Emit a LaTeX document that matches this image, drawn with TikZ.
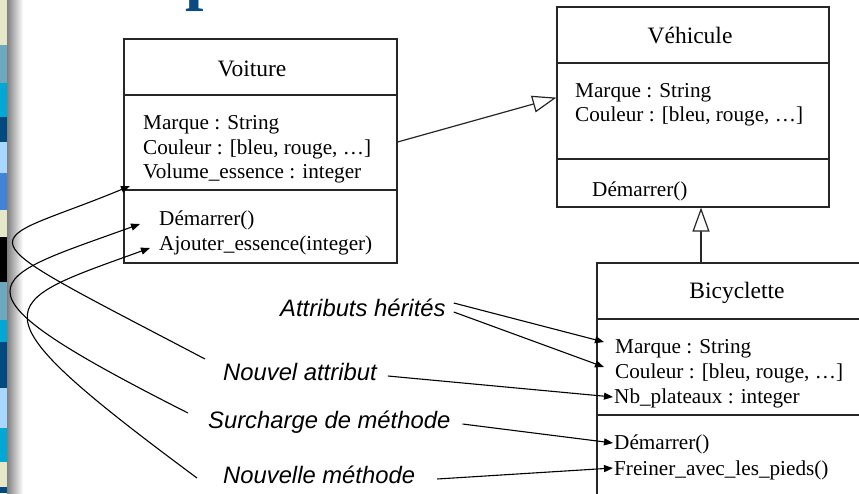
\documentclass[tikz,border=0pt]{standalone}
\usepackage{fontspec}
\setmainfont{Liberation Serif}
\newfontfamily\labfont{Liberation Sans}
\usetikzlibrary{arrows.meta}
\definecolor{cream}{HTML}{E6E6C8}
\definecolor{tealgray}{HTML}{6CA8BE}
\definecolor{cyanb}{HTML}{00A8D8}
\definecolor{darkb}{HTML}{004A80}
\definecolor{lightb}{HTML}{A8D8FF}
\definecolor{medb}{HTML}{4282D8}
\definecolor{titleblue}{HTML}{0D4A80}
\definecolor{linegray}{HTML}{262626}
\begin{document}
\begin{tikzpicture}[x=1pt,y=-1pt,
  box/.style={draw=linegray, line width=1.2pt, inner sep=0pt},
  sep/.style={draw=linegray, line width=1.2pt},
  attr/.style={anchor=base west, inner sep=0pt, font=\fontsize{21.2}{25}\selectfont},
  cname/.style={anchor=base, inner sep=0pt, font=\fontsize{23.5}{28}\selectfont},
  lbl/.style={anchor=base west, inner sep=0pt, font=\labfont\itshape\fontsize{23.8}{28}\selectfont},
  gen/.style={draw=linegray, line width=1.2pt, -{Triangle[open, fill=white, length=24pt, width=17pt]}},
  ptr/.style={draw=black, line width=1.1pt, -{Triangle[length=9pt, width=7pt]}}
]
\useasboundingbox (0,0) rectangle (859,493);
\fill[white] (0,0) rectangle (859,493);
% left decorative strip
\fill[cream] (0,0) rectangle (7,45);
\fill[tealgray] (0,45) rectangle (7,83);
\fill[cyanb] (0,83) rectangle (7,117);
\fill[darkb] (0,117) rectangle (7,142);
\fill[lightb] (0,142) rectangle (7,173);
\fill[medb] (0,173) rectangle (7,210);
\fill[cream] (0,210) rectangle (7,237);
\fill[black] (0,237) rectangle (7,282);
\fill[tealgray] (0,282) rectangle (7,320);
\fill[cyanb] (0,320) rectangle (7,342);
\fill[darkb] (0,342) rectangle (7,388);
\fill[lightb] (0,388) rectangle (7,428);
\fill[cyanb] (0,428) rectangle (7,462);
\fill[cream] (0,462) rectangle (7,487);
\fill[darkb] (0,487) rectangle (7,493);
\shade[left color=black!50, right color=white] (7,0) rectangle (23,493);
% title fragment (descender of the slide title, cut by the top edge)
\node[anchor=base west, inner sep=0pt, text=titleblue, font=\bfseries\fontsize{66}{66}\selectfont] (title) at (185,-2.5) {p};

% class boxes
\node[box, minimum width=273pt, minimum height=224pt] (voiture) at (260.5,151) {};
\draw[sep] (voiture.west |- 0,95) -- (voiture.east |- 0,95);
\draw[sep] (voiture.west |- 0,190) -- (voiture.east |- 0,190);
\node[box, minimum width=272pt, minimum height=200pt] (vehicule) at (693,107) {};
\draw[sep] (vehicule.west |- 0,63) -- (vehicule.east |- 0,63);
\draw[sep] (vehicule.west |- 0,159) -- (vehicule.east |- 0,159);
\node[box, minimum width=280pt, minimum height=297pt] (bicyclette) at (737,411.5) {};
\draw[sep] (bicyclette.west |- 0,319) -- (bicyclette.east |- 0,319);
\draw[sep] (bicyclette.west |- 0,415) -- (bicyclette.east |- 0,415);

% Voiture texts
\node[cname] (vname) at (252,76.5) {Voiture};
\node[attr] (vmarque) at (143,129.5) {Marque : String};
\node[attr] (vcouleur) at (143,154) {Couleur : [bleu, rouge, …]};
\node[attr] (vvolume) at (143,178.5) {Volume\_essence : integer};
\node[attr] (vdem) at (159,225) {Démarrer()};
\node[attr] (vajout) at (159,250) {Ajouter\_essence(integer)};

% Vehicule texts
\node[cname] (hname) at (690,43.5) {Véhicule};
\node[attr] (hmarque) at (575,97) {Marque : String};
\node[attr] (hcouleur) at (575,121) {Couleur : [bleu, rouge, …]};
\node[attr] (hdem) at (592,196.5) {Démarrer()};

% Bicyclette texts
\node[cname] (bname) at (737,298.5) {Bicyclette};
\node[attr] (bmarque) at (615,353) {Marque : String};
\node[attr] (bcouleur) at (615,378) {Couleur : [bleu, rouge, …]};
\node[attr] (bnb) at (614,403) {Nb\_plateaux : integer};
\node[attr] (bdem) at (614,449) {Démarrer()};
\node[attr] (bfrein) at (614,475) {Freiner\_avec\_les\_pieds()};

% labels
\node[lbl] (attrh) at (280,316.7) {Attributs hérités};
\node[lbl] (nouvattr) at (223,380) {Nouvel attribut};
\node[lbl] (surch) at (208,428.3) {Surcharge de méthode};
\node[lbl] (nouvmeth) at (223,483.3) {Nouvelle méthode};

% generalizations
\draw[gen] ([yshift=9pt]voiture.east) -- ([yshift=9.4pt]vehicule.west);
\draw[gen] ([xshift=-36pt]bicyclette.north) -- ([xshift=8pt]vehicule.south);

% straight label arrows
\draw[ptr] ([xshift=8pt,yshift=13.7pt]attrh.base east) -- ([xshift=-11pt,yshift=11pt]bmarque.base west);
\draw[ptr] ([xshift=8pt,yshift=4.7pt]attrh.base east) -- ([xshift=-11pt,yshift=11pt]bcouleur.base west);
\draw[ptr] ([xshift=11pt,yshift=4pt]nouvattr.base east) -- ([xshift=-1pt,yshift=6pt]bnb.base west);
\draw[ptr] ([xshift=12pt,yshift=4.3pt]surch.base east) -- ([xshift=-1pt,yshift=6pt]bdem.base west);
\draw[ptr] ([xshift=22pt,yshift=4.3pt]nouvmeth.base east) -- ([xshift=-1pt,yshift=7pt]bfrein.base west);

% curved arrows to Voiture
\draw[ptr] ([xshift=-18pt,yshift=21pt]nouvattr.base west) .. controls (-52,224) and (-22,249) .. ([xshift=-13pt,yshift=-7.5pt]vvolume.base west);
\draw[ptr] ([xshift=-20pt,yshift=15.3pt]surch.base west) .. controls (-65,285) and (-15,280) .. ([xshift=-19pt,yshift=1pt]vdem.base west);
\draw[ptr] ([xshift=-26pt,yshift=5.3pt]nouvmeth.base west) .. controls (-35,306) and (-5,304) .. ([xshift=-9pt,yshift=2pt]vajout.base west);
\end{tikzpicture}
\end{document}
